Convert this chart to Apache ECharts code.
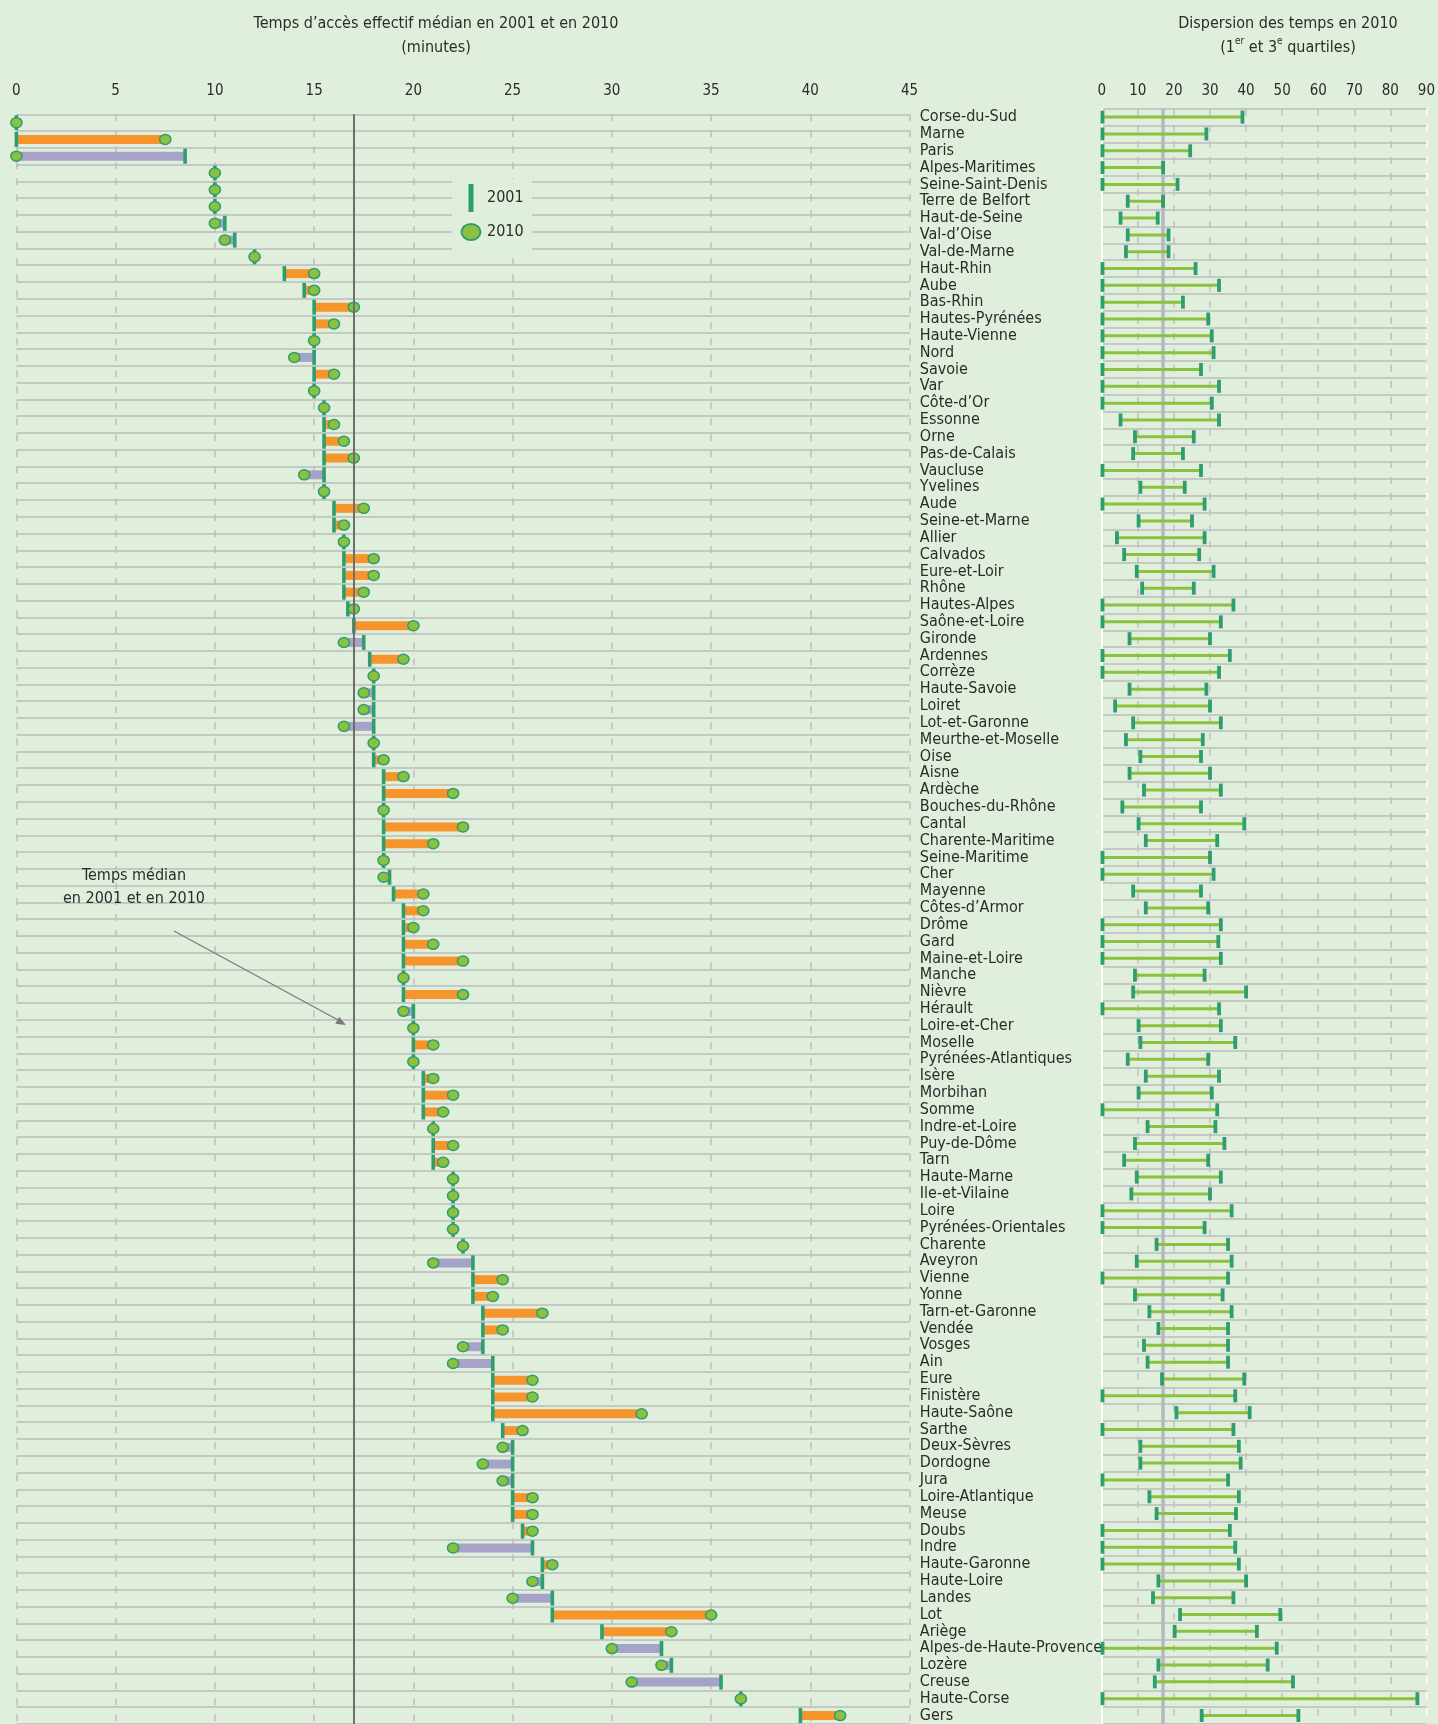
<!DOCTYPE html>
<html>
<head>
<meta charset="utf-8">
<script src="https://cdn.jsdelivr.net/npm/echarts/dist/echarts.min.js"></script>
<style>
  html, body { margin: 0; padding: 0; background: #e0efdc; }
  #chart { width: 1438px; height: 1724px; }
</style>
</head>
<body>
<div id="chart"></div>
<script>
const depts = [
  'Corse-du-Sud', 'Marne', 'Paris', 'Alpes-Maritimes', 'Seine-Saint-Denis', 'Terre de Belfort',
  'Haut-de-Seine', 'Val-d\u2019Oise', 'Val-de-Marne', 'Haut-Rhin', 'Aube', 'Bas-Rhin',
  'Hautes-Pyrénées', 'Haute-Vienne', 'Nord', 'Savoie', 'Var', 'Côte-d\u2019Or',
  'Essonne', 'Orne', 'Pas-de-Calais', 'Vaucluse', 'Yvelines', 'Aude',
  'Seine-et-Marne', 'Allier', 'Calvados', 'Eure-et-Loir', 'Rhône', 'Hautes-Alpes',
  'Saône-et-Loire', 'Gironde', 'Ardennes', 'Corrèze', 'Haute-Savoie', 'Loiret',
  'Lot-et-Garonne', 'Meurthe-et-Moselle', 'Oise', 'Aisne', 'Ardèche', 'Bouches-du-Rhône',
  'Cantal', 'Charente-Maritime', 'Seine-Maritime', 'Cher', 'Mayenne', 'Côtes-d\u2019Armor',
  'Drôme', 'Gard', 'Maine-et-Loire', 'Manche', 'Nièvre', 'Hérault',
  'Loire-et-Cher', 'Moselle', 'Pyrénées-Atlantiques', 'Isère', 'Morbihan', 'Somme',
  'Indre-et-Loire', 'Puy-de-Dôme', 'Tarn', 'Haute-Marne', 'Ile-et-Vilaine', 'Loire',
  'Pyrénées-Orientales', 'Charente', 'Aveyron', 'Vienne', 'Yonne', 'Tarn-et-Garonne',
  'Vendée', 'Vosges', 'Ain', 'Eure', 'Finistère', 'Haute-Saône',
  'Sarthe', 'Deux-Sèvres', 'Dordogne', 'Jura', 'Loire-Atlantique', 'Meuse',
  'Doubs', 'Indre', 'Haute-Garonne', 'Haute-Loire', 'Landes', 'Lot',
  'Ariège', 'Alpes-de-Haute-Provence', 'Lozère', 'Creuse', 'Haute-Corse', 'Gers'
];

// median access time, minutes
const time2001 = [
  0, 0, 8.5, 10, 10, 10, 10.5, 11, 12, 13.5, 14.5, 15,
  15, 15, 15, 15, 15, 15.5, 15.5, 15.5, 15.5, 15.5, 15.5, 16,
  16, 16.5, 16.5, 16.5, 16.5, 16.7, 17, 17.5, 17.8, 18, 18, 18,
  18, 18, 18, 18.5, 18.5, 18.5, 18.5, 18.5, 18.5, 18.8, 19, 19.5,
  19.5, 19.5, 19.5, 19.5, 19.5, 20, 20, 20, 20, 20.5, 20.5, 20.5,
  21, 21, 21, 22, 22, 22, 22, 22.5, 23, 23, 23, 23.5,
  23.5, 23.5, 24, 24, 24, 24, 24.5, 25, 25, 25, 25, 25,
  25.5, 26, 26.5, 26.5, 27, 27, 29.5, 32.5, 33, 35.5, 36.5, 39.5
];
const time2010 = [
  0, 7.5, 0, 10, 10, 10, 10, 10.5, 12, 15, 15, 17,
  16, 15, 14, 16, 15, 15.5, 16, 16.5, 17, 14.5, 15.5, 17.5,
  16.5, 16.5, 18, 18, 17.5, 17, 20, 16.5, 19.5, 18, 17.5, 17.5,
  16.5, 18, 18.5, 19.5, 22, 18.5, 22.5, 21, 18.5, 18.5, 20.5, 20.5,
  20, 21, 22.5, 19.5, 22.5, 19.5, 20, 21, 20, 21, 22, 21.5,
  21, 22, 21.5, 22, 22, 22, 22, 22.5, 21, 24.5, 24, 26.5,
  24.5, 22.5, 22, 26, 26, 31.5, 25.5, 24.5, 23.5, 24.5, 26, 26,
  26, 22, 27, 26, 25, 35, 33, 30, 32.5, 31, 36.5, 41.5
];

// 2010 dispersion: first and third quartiles
const q1 = [
  0, 0, 0, 0, 0, 7, 5, 7, 6.5, 0, 0, 0,
  0, 0, 0, 0, 0, 0, 5, 9, 8.5, 0, 10.5, 0,
  10, 4, 6, 9.5, 11, 0, 0, 7.5, 0, 0, 7.5, 3.5,
  8.5, 6.5, 10.5, 7.5, 11.5, 5.5, 10, 12, 0, 0, 8.5, 12,
  0, 0, 0, 9, 8.5, 0, 10, 10.5, 7, 12, 10, 0,
  12.5, 9, 6, 9.5, 8, 0, 0, 15, 9.5, 0, 9, 13,
  15.5, 11.5, 12.5, 16.5, 0, 20.5, 0, 10.5, 10.5, 0, 13, 15,
  0, 0, 0, 15.5, 14, 21.5, 20, 0, 15.5, 14.5, 0, 27.5
];
const q3 = [
  39, 29, 24.5, 17, 21, 17, 15.5, 18.5, 18.5, 26, 32.5, 22.5,
  29.5, 30.5, 31, 27.5, 32.5, 30.5, 32.5, 25.5, 22.5, 27.5, 23, 28.5,
  25, 28.5, 27, 31, 25.5, 36.5, 33, 30, 35.5, 32.5, 29, 30,
  33, 28, 27.5, 30, 33, 27.5, 39.5, 32, 30, 31, 27.5, 29.5,
  33, 32.3, 33, 28.5, 40, 32.5, 33, 37, 29.5, 32.5, 30.5, 32,
  31.5, 34, 29.5, 33, 30, 36, 28.5, 35, 36, 35, 33.5, 36,
  35, 35, 35, 39.5, 37, 41, 36.5, 38, 38.5, 35, 38, 37.2,
  35.5, 37, 38, 40, 36.5, 49.5, 43, 48.5, 46, 53, 87.5, 54.5
];

const leftTicks = { min: 0, max: 45, interval: 5 };
const rightTicks = { min: 0, max: 90, interval: 10 };
const medianTime = 17;

const FONT = "'DejaVu Sans Condensed', 'Liberation Sans Narrow', sans-serif";
const BG = '#e0efdc';
const ORANGE = '#f7952d';
const LAVENDER = '#a5a3ca';
const TICK = '#2e9d70';
const DOT = '#8bc13f';
const GRIDC = '#bdbdbd';
const INK = '#2b2b2b';

const chart = echarts.init(document.getElementById('chart'));

function renderTimes(params, api) {
  const i = api.value(0);
  const a = api.value(1);
  const b = api.value(2);
  const pa = api.coord([a, i]);
  const pb = api.coord([b, i]);
  const y = pa[1];
  const kids = [];
  if (a !== b) {
    kids.push({
      type: 'rect',
      shape: { x: Math.min(pa[0], pb[0]), y: y - 4.5, width: Math.abs(pb[0] - pa[0]), height: 9 },
      style: { fill: b > a ? ORANGE : LAVENDER }
    });
  }
  kids.push({
    type: 'rect',
    shape: { x: pa[0] - 1.8, y: y - 7.5, width: 3.6, height: 15 },
    style: { fill: TICK }
  });
  kids.push({
    type: 'ellipse',
    shape: { cx: pb[0], cy: y, rx: 5.6, ry: 5 },
    style: { fill: DOT, stroke: TICK, lineWidth: 1.5 }
  });
  return { type: 'group', children: kids };
}

function renderRange(params, api) {
  const i = api.value(0);
  const p1 = api.coord([api.value(1), i]);
  const p3 = api.coord([api.value(2), i]);
  const y = p1[1];
  return {
    type: 'group',
    children: [
      { type: 'rect', shape: { x: p1[0], y: y - 1.5, width: p3[0] - p1[0], height: 3 }, style: { fill: DOT } },
      { type: 'rect', shape: { x: p1[0] - 1.2, y: y - 6.5, width: 3.8, height: 13 }, style: { fill: TICK } },
      { type: 'rect', shape: { x: p3[0] - 1.9, y: y - 6.5, width: 3.8, height: 13 }, style: { fill: TICK } }
    ]
  };
}

const rightSplitColors = [];
for (let v = rightTicks.min; v <= rightTicks.max; v += rightTicks.interval) {
  rightSplitColors.push(v === rightTicks.max ? '#ffffff' : GRIDC);
}

const option = {
  backgroundColor: BG,
  animation: false,
  textStyle: { fontFamily: FONT },
  title: [
    {
      text: 'Temps d\u2019accès effectif médian en 2001 et en 2010\n(minutes)',
      left: 431, top: 7, textAlign: 'center',
      textStyle: { fontFamily: FONT, fontSize: 16, fontWeight: 'normal', color: INK, lineHeight: 24 }
    },
    {
      text: '{a|Dispersion des temps en 2010}\n{a|(1}{s|er}{a| et 3}{s|e}{a| quartiles)}',
      left: 1283, top: 7, textAlign: 'center',
      textStyle: {
        fontFamily: FONT, fontSize: 16, fontWeight: 'normal', color: INK,
        rich: {
          a: { fontFamily: FONT, fontSize: 16, color: INK, lineHeight: 24 },
          s: { fontFamily: FONT, fontSize: 10, color: INK, lineHeight: 24, verticalAlign: 'top', padding: [0, 0, 7, 0] }
        }
      }
    }
  ],
  grid: [
    { left: 16.4, top: 114.3, width: 893.2, height: 1611.4 },
    { left: 1101.8, top: 108.7, width: 327.4, height: 1615.2 }
  ],
  xAxis: [
    {
      gridIndex: 0, type: 'value', position: 'top',
      min: leftTicks.min, max: leftTicks.max, interval: leftTicks.interval,
      axisLine: { show: false }, axisTick: { show: false },
      axisLabel: { fontFamily: FONT, fontSize: 15, color: INK, margin: 16 },
      splitLine: { show: true, lineStyle: { color: GRIDC, width: 1.5, type: [7, 9] } }
    },
    {
      gridIndex: 1, type: 'value', position: 'top',
      min: rightTicks.min, max: rightTicks.max, interval: rightTicks.interval,
      axisLine: { show: false }, axisTick: { show: false },
      axisLabel: { fontFamily: FONT, fontSize: 15, color: INK, margin: 10 },
      splitLine: { show: true, lineStyle: { color: rightSplitColors, width: 1.5, type: [7, 9] } }
    }
  ],
  yAxis: [
    {
      gridIndex: 0, type: 'category', data: depts, inverse: true,
      axisLine: { show: false }, axisTick: { show: false }, axisLabel: { show: false },
      splitLine: { show: true, interval: 0, lineStyle: { color: GRIDC, width: 1.6 } }
    },
    {
      gridIndex: 1, type: 'category', data: depts, inverse: true,
      axisLine: { show: true, lineStyle: { color: '#ffffff', width: 2 } },
      axisTick: { show: false },
      axisLabel: {
        interval: 0, align: 'left', margin: 182,
        fontFamily: FONT, fontSize: 16, color: INK
      },
      splitLine: { show: true, interval: 0, lineStyle: { color: GRIDC, width: 1.6 } }
    }
  ],
  series: [
    {
      type: 'line', xAxisIndex: 1, yAxisIndex: 1, data: [], z: 1, silent: true,
      markLine: {
        z: 1, silent: true, symbol: 'none', label: { show: false },
        lineStyle: { color: '#b7b7c2', width: 3.5, type: 'solid' },
        data: [{ xAxis: medianTime }]
      }
    },
    {
      type: 'custom', name: 'times', xAxisIndex: 0, yAxisIndex: 0, z: 3,
      renderItem: renderTimes,
      encode: { x: [1, 2], y: 0 },
      data: depts.map((d, i) => [i, time2001[i], time2010[i]])
    },
    {
      type: 'line', xAxisIndex: 0, yAxisIndex: 0, data: [], z: 5, silent: true,
      markLine: {
        z: 5, silent: true, symbol: 'none', label: { show: false },
        lineStyle: { color: '#6e6e6e', width: 2, type: 'solid' },
        data: [{ xAxis: medianTime }]
      }
    },
    {
      type: 'custom', name: 'quartiles', xAxisIndex: 1, yAxisIndex: 1, z: 3,
      renderItem: renderRange,
      encode: { x: [1, 2], y: 0 },
      data: depts.map((d, i) => [i, q1[i], q3[i]])
    }
  ],
  graphic: [
    // legend box
    { type: 'rect', shape: { x: 452, y: 179, width: 80, height: 72 }, style: { fill: BG }, z: 50 },
    { type: 'rect', shape: { x: 468.5, y: 184, width: 5, height: 28 }, style: { fill: TICK }, z: 51 },
    { type: 'text', x: 487, y: 198, style: { text: '2001', fontFamily: FONT, fontSize: 16, fill: INK, verticalAlign: 'middle' }, z: 51 },
    { type: 'ellipse', shape: { cx: 471, cy: 232, rx: 9.5, ry: 8 }, style: { fill: DOT, stroke: TICK, lineWidth: 2 }, z: 51 },
    { type: 'text', x: 487, y: 232, style: { text: '2010', fontFamily: FONT, fontSize: 16, fill: INK, verticalAlign: 'middle' }, z: 51 },
    // median annotation
    {
      type: 'text', x: 134, y: 887, z: 51,
      style: { text: 'Temps médian\nen 2001 et en 2010', fontFamily: FONT, fontSize: 16, lineHeight: 23, fill: INK, textAlign: 'center', verticalAlign: 'middle' }
    },
    { type: 'line', shape: { x1: 174, y1: 931, x2: 340, y2: 1021 }, style: { stroke: '#7a7a7a', lineWidth: 1.3 }, z: 51 },
    { type: 'polygon', shape: { points: [[346, 1025], [335.3, 1023.7], [339.1, 1016.7]] }, style: { fill: '#7a7a7a' }, z: 51 }
  ]
};

chart.setOption(option);
</script>
</body>
</html>
